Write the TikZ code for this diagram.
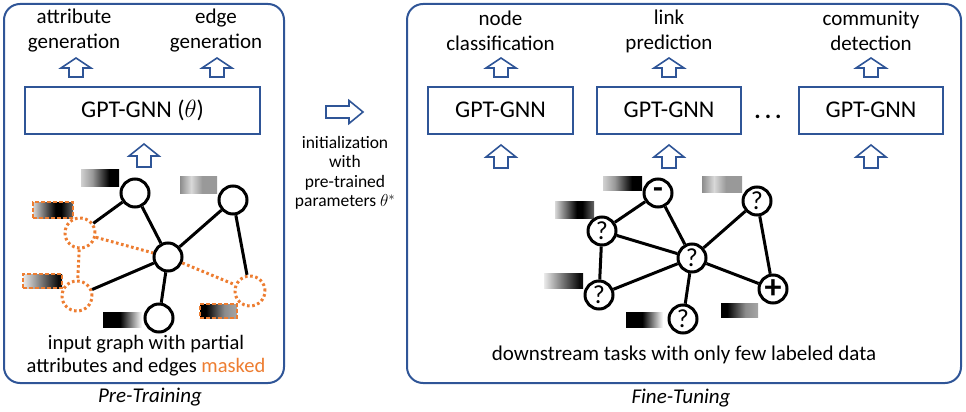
\documentclass[tikz,border=0pt]{standalone}
\usepackage{fontspec}
\setmainfont{Carlito}
\definecolor{pblue}{HTML}{2F5597}
\definecolor{porange}{HTML}{ED7D31}
\pgfdeclarehorizontalshading{shA}{100bp}{color(0bp)=(black!18); color(25bp)=(black!18); color(40bp)=(black!40); color(62bp)=(black); color(100bp)=(black)}
\pgfdeclarehorizontalshading{shB}{100bp}{color(0bp)=(black!45); color(25bp)=(black!45); color(40bp)=(black!15); color(55bp)=(black!40); color(100bp)=(black!40)}
\pgfdeclarehorizontalshading{shC}{100bp}{color(0bp)=(black!15); color(25bp)=(black!15); color(53bp)=(black); color(60bp)=(black); color(75bp)=(black!60); color(100bp)=(black!60)}
\pgfdeclarehorizontalshading{shD}{100bp}{color(0bp)=(black!8); color(25bp)=(black!8); color(70bp)=(black!95); color(100bp)=(black!95)}
\pgfdeclarehorizontalshading{shE}{100bp}{color(0bp)=(black); color(47bp)=(black); color(65bp)=(black!35); color(75bp)=(white); color(100bp)=(white)}
\pgfdeclarehorizontalshading{shF}{100bp}{color(0bp)=(black); color(33bp)=(black); color(58bp)=(black!45); color(75bp)=(black!35); color(100bp)=(black!35)}
\begin{document}
\begin{tikzpicture}[x=1pt,y=-1pt,
  panel/.style={draw=pblue,line width=2,rounded corners=16},
  gbox/.style={draw=pblue,line width=2,fill=white,inner sep=0,font=\fontsize{24}{28}\selectfont},
  task/.style={align=center,inner sep=0,font=\fontsize{21}{25}\selectfont},
  blockarr/.style={draw=pblue,fill=white,line width=1.6,line join=miter},
  gnode/.style={circle,draw=black,line width=3,minimum size=28,inner sep=0,fill=white,font=\fontsize{26}{26}\selectfont},
  mnode/.style={circle,draw=porange,line width=3,dash pattern=on 2.6 off 2.6,minimum size=30,inner sep=0},
  edge/.style={line width=3,draw=black},
  medge/.style={line width=3,draw=porange,dash pattern=on 2.6 off 2.6},
  bar/.style={inner sep=0,shading=#1},
  mbar/.style={inner sep=0,shading=#1,draw=porange,line width=2,dash pattern=on 4 off 2},
  uparrS/.pic={\draw[blockarr] (-7,0) -- (-7,-9) -- (-15,-9) -- (0,-19) -- (15,-9) -- (7,-9) -- (7,0) -- cycle;},
  uparrL/.pic={\draw[blockarr] (-7,0) -- (-7,-11) -- (-15,-11) -- (0,-23) -- (15,-11) -- (7,-11) -- (7,0) -- cycle;}
]
\useasboundingbox (0,0) rectangle (966,412);
% panels
\draw[panel] (4,4) rectangle (284,383);
\draw[panel] (407,4) rectangle (961,383);

% ---------- pre-training ----------
\node[task] (t1) at (74,31) {attribute\\generation};
\node[task] (t2) at (216,31) {edge\\generation};
\pic at (76,77) {uparrS};
\pic at (217,77) {uparrS};
\node[gbox,minimum width=235,minimum height=47] (g0) at (142.5,110) {GPT-GNN ($\theta$)};
\pic at (144,167) {uparrL};

% bars
\node[bar=shA,minimum width=38,minimum height=17] (b1) at (100,177.5) {};
\node[bar=shB,minimum width=37,minimum height=17] (b2) at (198.5,184.5) {};
\node[mbar=shC,minimum width=40,minimum height=16] (b3) at (53,210) {};
\node[mbar=shD,minimum width=39,minimum height=14] (b4) at (42.5,281) {};
\node[bar=shE,minimum width=39,minimum height=15] (b5) at (122.5,319.5) {};
\node[mbar=shF,minimum width=37,minimum height=14] (b6) at (218.5,311) {};

% graph nodes
\node[gnode] (a1) at (135,193) {};
\node[gnode] (a2) at (233,200) {};
\node[gnode] (ac) at (168,257) {};
\node[gnode] (ab) at (159,318) {};
\node[mnode] (m1) at (80,233) {};
\node[mnode] (m2) at (77,296) {};
\node[mnode] (m3) at (250,291) {};
\draw[edge] (a1) -- (ac);
\draw[edge] (a2) -- (ac);
\draw[edge] (ac) -- (ab);
\draw[edge] (a2) -- (m3);
\draw[edge] (ac) -- (m2);
\draw[edge] (a1) -- (m1);
\draw[medge] (m1) -- (ac);
\draw[medge] (m1) -- (m2);
\draw[medge] (ac) -- (m3);

\node[task,font=\fontsize{20.5}{23}\selectfont] (cap1) at (146,356) {input graph with partial\\attributes and edges \textcolor{porange}{masked}};
\node[task,font=\fontsize{21}{25}\selectfont\itshape] (pt) at (150,397) {Pre-Training};

% ---------- middle ----------
\draw[blockarr] (326,106) -- (349,106) -- (349,100.5) -- (363,112) -- (349,123.5) -- (349,118) -- (326,118) -- cycle;
\node[task,font=\fontsize{17.5}{19.5}\selectfont] (init) at (345,173) {initialization\\with\\pre-trained\\parameters $\theta^{*}$};

% ---------- fine-tuning ----------
\node[task] (r1) at (500.5,31) {node\\classification};
\node[task] (r2) at (669,31) {link\\prediction};
\node[task] (r3) at (871,31) {community\\detection};
\pic at (501,77) {uparrS};
\pic at (669,77) {uparrS};
\pic at (871,77) {uparrS};
\node[gbox,minimum width=145,minimum height=47] (g1) at (500.5,110) {GPT-GNN};
\node[gbox,minimum width=144,minimum height=47] (g2) at (669,110) {GPT-GNN};
\node[gbox,minimum width=144,minimum height=47] (g3) at (871,110) {GPT-GNN};
\node[task,font=\fontsize{24}{24}\selectfont\bfseries] (dots) at (768,117) {.\,.\,.};
\pic at (501,168) {uparrL};
\pic at (669,168) {uparrL};
\pic at (871,168) {uparrL};

% bars
\node[bar=shA,minimum width=39,minimum height=14] (c1) at (622.5,183) {};
\node[bar=shB,minimum width=40,minimum height=16] (c2) at (722,184) {};
\node[bar=shC,minimum width=39,minimum height=17] (c3) at (574.5,209.5) {};
\node[bar=shD,minimum width=39,minimum height=15] (c4) at (563.5,280.5) {};
\node[bar=shE,minimum width=37,minimum height=15] (c5) at (644.5,319.5) {};
\node[bar=shF,minimum width=37,minimum height=14] (c6) at (739.5,310) {};

% graph nodes
\node[gnode,font=\fontsize{32}{32}\selectfont\bfseries] (rm) at (658,193) {-};
\node[gnode] (rq1) at (757,201) {?};
\node[gnode] (rq2) at (602,231) {?};
\node[gnode] (rc) at (692,258) {?};
\node[gnode] (rq3) at (599,295) {?};
\node[gnode] (rq4) at (683,319) {?};
\node[gnode,font=\fontsize{34}{34}\selectfont\bfseries] (rp) at (773,289) {+};
\draw[edge] (rq2) -- (rm);
\draw[edge] (rm) -- (rc);
\draw[edge] (rq2) -- (rc);
\draw[edge] (rq2) -- (rq3);
\draw[edge] (rq3) -- (rc);
\draw[edge] (rc) -- (rq4);
\draw[edge] (rc) -- (rq1);
\draw[edge] (rc) -- (rp);
\draw[edge] (rq1) -- (rp);

\node[task,font=\fontsize{21}{25}\selectfont] (cap2) at (684,355) {downstream tasks with only few labeled data};
\node[task,font=\fontsize{21}{25}\selectfont\itshape] (ft) at (681,398) {Fine-Tuning};
\end{tikzpicture}
\end{document}
